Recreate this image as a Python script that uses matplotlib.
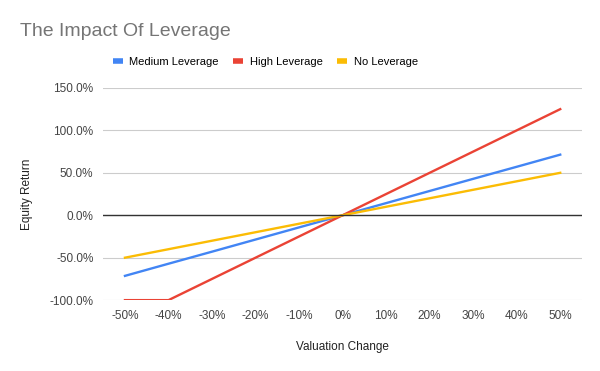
import matplotlib.pyplot as plt
from matplotlib.ticker import PercentFormatter

plt.rcParams['font.family'] = ['Liberation Sans', 'DejaVu Sans']
plt.rcParams['axes.unicode_minus'] = False

valuation_change = [-0.5, -0.4, -0.3, -0.2, -0.1, 0.0, 0.1, 0.2, 0.3, 0.4, 0.5]
medium_leverage = [-0.714, -0.571, -0.429, -0.286, -0.143, 0.0, 0.143, 0.286, 0.429, 0.571, 0.714]
high_leverage = [-1.0, -1.0, -0.75, -0.5, -0.25, 0.0, 0.25, 0.5, 0.75, 1.0, 1.25]
no_leverage = [-0.5, -0.4, -0.3, -0.2, -0.1, 0.0, 0.1, 0.2, 0.3, 0.4, 0.5]
x_ticks = [-0.5, -0.4, -0.3, -0.2, -0.1, 0.0, 0.1, 0.2, 0.3, 0.4, 0.5]
y_ticks = [-1.0, -0.5, 0.0, 0.5, 1.0, 1.5]

fig = plt.figure(figsize=(6, 3.71), dpi=100)
ax = fig.add_axes([0.172, 0.191, 0.798, 0.572])

ax.plot(valuation_change, medium_leverage, color='#4285F4', linewidth=1.7, label='Medium Leverage')
ax.plot(valuation_change, high_leverage, color='#EA4335', linewidth=1.7, label='High Leverage')
ax.plot(valuation_change, no_leverage, color='#FBBC04', linewidth=1.7, label='No Leverage')

ax.set_xlim(-0.55, 0.55)
ax.set_ylim(-1.0, 1.5)
ax.set_xticks(x_ticks)
ax.set_yticks(y_ticks)
ax.xaxis.set_major_formatter(PercentFormatter(1.0, decimals=0))
ax.yaxis.set_major_formatter(PercentFormatter(1.0, decimals=1))
ax.grid(axis='y', color='#cccccc', linewidth=0.8)
ax.axhline(0, color='#333333', linewidth=1)
ax.set_axisbelow(True)
for s in ax.spines.values():
    s.set_visible(False)
ax.tick_params(length=0, labelsize=8.5, colors='#444444', pad=7)

ax.set_xlabel('Valuation Change', fontsize=8.5, color='#222222', labelpad=14)
ax.set_ylabel('Equity Return', fontsize=8.5, color='#222222', labelpad=12)

fig.text(0.033, 0.915, 'The Impact Of Leverage', fontsize=14, color='#757575', va='center')
fig.legend(loc='center', bbox_to_anchor=(0.442, 0.833), ncol=3, frameon=False, fontsize=8,
           handlelength=0.9, handleheight=0.5, columnspacing=1.3, handletextpad=0.6)
leg = fig.legends[0]
for line in leg.get_lines():
    line.set_linewidth(4)
    line.set_solid_capstyle('butt')

fig.savefig('out.png', dpi=100)
